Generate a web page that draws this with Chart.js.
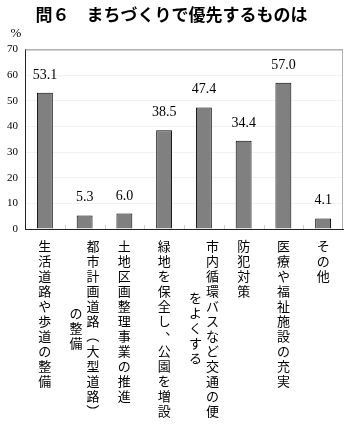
<!DOCTYPE html>
<html>
<head>
<meta charset="utf-8">
<script src="https://cdn.jsdelivr.net/npm/chart.js@4.4.1/dist/chart.umd.min.js"></script>
<style>
  html, body { margin: 0; padding: 0; background: #ffffff; }
  #wrap { width: 351px; height: 428px; }
</style>
</head>
<body>
<div id="wrap"><canvas id="c" width="351" height="428"></canvas></div>
<script>
const titleText = "問６　まちづくりで優先するものは";
const unitLabel = "%";
const categories = [
  "生活道路や歩道の整備",
  "都市計画道路（大型道路）\nの整備",
  "土地区画整理事業の推進",
  "緑地を保全し、公園を増設",
  "市内循環バスなど交通の便\nをよくする",
  "防犯対策",
  "医療や福祉施設の充実",
  "その他"
];
const values = [53.1, 5.3, 6.0, 38.5, 47.4, 34.4, 57.0, 4.1];
const yMin = 0;
const yMax = 70;
const yStep = 10;

const serif = '"Liberation Serif", "DejaVu Serif", serif';
const jp = '"Noto Sans CJK JP", sans-serif';

const decorPlugin = {
  id: 'decor',
  beforeDatasetsDraw(chart) {
    const {ctx, chartArea: a, scales: {x}} = chart;
    ctx.save();
    ctx.lineWidth = 1;
    ctx.strokeStyle = '#8a8a8a';
    ctx.beginPath();
    ctx.moveTo(a.left, a.top + 0.5);
    ctx.lineTo(a.right, a.top + 0.5);
    ctx.stroke();
    ctx.strokeStyle = '#b0b0b0';
    ctx.beginPath();
    ctx.moveTo(a.right - 0.5, a.top);
    ctx.lineTo(a.right - 0.5, a.bottom);
    ctx.stroke();
    ctx.strokeStyle = '#d0d0d0';
    for (let i = 1; i < categories.length; i++) {
      const bx = Math.round((x.getPixelForValue(i - 1) + x.getPixelForValue(i)) / 2) + 0.5;
      ctx.beginPath();
      ctx.moveTo(bx, a.bottom - 4);
      ctx.lineTo(bx, a.bottom);
      ctx.stroke();
    }
    ctx.restore();
  },
  afterDraw(chart) {
    const {ctx, chartArea: a, scales: {x}} = chart;
    ctx.save();
    ctx.fillStyle = '#000';
    ctx.font = '13px ' + serif;
    ctx.textAlign = 'center';
    ctx.textBaseline = 'alphabetic';
    ctx.fillText(unitLabel, a.left - 9, a.top - 12);

    const meta = chart.getDatasetMeta(0);
    ctx.font = '14px ' + serif;
    meta.data.forEach((bar, i) => {
      ctx.fillText(values[i].toFixed(1), bar.x, bar.y - 14);
    });

    ctx.font = '13px ' + jp;
    ctx.textAlign = 'center';
    ctx.textBaseline = 'middle';
    const top = a.bottom + 17;
    const pitch = 15;
    const colGap = 17;
    categories.forEach((label, i) => {
      const cols = label.split('\n');
      const cx = x.getPixelForValue(i);
      const maxLen = Math.max(...cols.map(c => [...c].length));
      cols.forEach((col, c) => {
        const colX = cx + ((cols.length - 1) / 2 - c) * colGap;
        const chars = [...col];
        const start = (maxLen - chars.length) / 2 * pitch;
        chars.forEach((ch, k) => {
          const y = top + start + k * pitch;
          if (ch === '（' || ch === '）') {
            ctx.save();
            ctx.translate(colX, y);
            ctx.rotate(Math.PI / 2);
            ctx.fillText(ch, 0, 0);
            ctx.restore();
          } else if (ch === '、' || ch === '。') {
            ctx.fillText(ch, colX + 7.5, y - 7);
          } else {
            ctx.fillText(ch, colX, y);
          }
        });
      });
    });
    ctx.restore();
  }
};

new Chart(document.getElementById('c'), {
  type: 'bar',
  data: {
    labels: categories,
    datasets: [{
      data: values,
      backgroundColor: '#808080',
      borderColor: '#000000',
      borderWidth: 1,
      barPercentage: 0.4,
      categoryPercentage: 1.0
    }]
  },
  options: {
    responsive: false,
    animation: false,
    devicePixelRatio: 1,
    layout: { padding: { left: 0, right: 8, top: 0, bottom: 199 } },
    plugins: {
      legend: { display: false },
      tooltip: { enabled: false },
      title: {
        display: true,
        text: titleText,
        color: '#000',
        font: { family: jp, size: 17, weight: 'bold' },
        padding: { top: 4, bottom: 25 }
      }
    },
    scales: {
      x: {
        ticks: { display: false },
        grid: { display: true, drawOnChartArea: false, drawTicks: false },
        border: { display: true, color: '#222', width: 1 }
      },
      y: {
        min: yMin,
        max: yMax,
        ticks: {
          stepSize: yStep,
          color: '#000',
          padding: 7,
          font: { family: serif, size: 11 }
        },
        grid: { color: '#f2f2f2', drawTicks: false },
        border: { display: true, color: '#222', width: 1, dash: [] },
        afterFit(scale) { scale.width = 25; }
      }
    }
  },
  plugins: [decorPlugin]
});
</script>
</body>
</html>
